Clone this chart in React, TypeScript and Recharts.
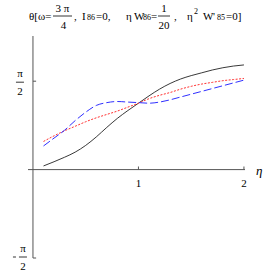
import React from 'react';
import { ComposedChart, Line, XAxis, YAxis, ReferenceLine } from 'recharts';

const eta = [0.1, 0.2, 0.3, 0.4, 0.5, 0.6, 0.7, 0.8, 0.9, 1.0, 1.1, 1.2, 1.3, 1.4, 1.5, 1.6, 1.7, 1.8, 1.9, 2.0];
const thetaBlack = [0.065, 0.14, 0.22, 0.31, 0.43, 0.58, 0.75, 0.91, 1.05, 1.18, 1.31, 1.43, 1.53, 1.61, 1.67, 1.72, 1.77, 1.81, 1.84, 1.86];
const thetaRed = [0.5, 0.6, 0.69, 0.77, 0.85, 0.92, 0.98, 1.04, 1.11, 1.18, 1.26, 1.32, 1.37, 1.43, 1.48, 1.52, 1.55, 1.58, 1.6, 1.62];
const thetaBlue = [0.42, 0.56, 0.7, 0.87, 1.02, 1.14, 1.19, 1.21, 1.2, 1.19, 1.18, 1.2, 1.24, 1.29, 1.34, 1.39, 1.44, 1.49, 1.54, 1.59];

const xTicks = [1, 2];
const xTickLabels = ['1', '2'];
const yTicks = [Math.PI / 2, -Math.PI / 2];
const yTickSigns = ['', '-'];

const data = eta.map((e, i) => ({ eta: e, a: thetaBlack[i], b: thetaRed[i], c: thetaBlue[i] }));

const FONT = "'Liberation Serif', 'DejaVu Serif', serif";
const AXIS = '#555';

const XTickLabel = (props: any) => {
  const vb = props.viewBox || {};
  return (
    <text x={vb.x} y={vb.y + vb.height + 17} textAnchor="middle" fontFamily={FONT} fontSize={11} fill="#000">
      {props.text}
    </text>
  );
};

const YTickLabel = (props: any) => {
  const vb = props.viewBox || {};
  const neg = props.sign === '-';
  const cx = vb.x - (neg ? 10 : 13);
  const by = vb.y + (neg ? -1 : 1);
  return (
    <g>
      {neg && <line x1={cx - 10} x2={cx - 7} y1={by} y2={by} stroke="#000" strokeWidth={0.8} />}
      <text x={cx} y={by - 5} textAnchor="middle" fontFamily={FONT} fontSize={11} fill="#000">π</text>
      <line x1={cx - 4} x2={cx + 4} y1={by} y2={by} stroke="#000" strokeWidth={0.8} />
      <text x={cx} y={by + 13} textAnchor="middle" fontFamily={FONT} fontSize={11} fill="#000">2</text>
    </g>
  );
};

const EtaLabel = (props: any) => {
  const vb = props.viewBox || {};
  return (
    <text x={vb.x + vb.width + 11} y={vb.y + 5} fontFamily={FONT} fontStyle="italic" fontSize={13} fill="#000">
      η
    </text>
  );
};

const Title = () => (
  <svg width={273} height={40} style={{ position: 'absolute', left: 0, top: 0 }}>
    <g fontFamily={FONT} fontSize={11} fill="#000">
      <text x={29} y={20}>θ[</text>
      <text x={38} y={20}>ω=</text>
      <text x={62.5} y={12} textAnchor="middle">3 π</text>
      <line x1={53} x2={72} y1={16} y2={16} stroke="#000" strokeWidth={0.8} />
      <text x={63.5} y={29} textAnchor="middle">4</text>
      <text x={74} y={20}>,</text>
      <text x={82} y={20}>I</text>
      <text x={87} y={20} fontSize={8}>86</text>
      <text x={96} y={20}>=0,</text>
      <text x={126} y={20}>η</text>
      <text x={134} y={20}>W</text>
      <text x={143} y={20} fontSize={8}>86</text>
      <text x={151} y={20}>=</text>
      <text x={164} y={12} textAnchor="middle">1</text>
      <line x1={158} x2={170} y1={16} y2={16} stroke="#000" strokeWidth={0.8} />
      <text x={164} y={29} textAnchor="middle">20</text>
      <text x={174} y={20}>,</text>
      <text x={187} y={20}>η</text>
      <text x={194} y={14} fontSize={8}>2</text>
      <text x={203} y={20}>W</text>
      <text x={213} y={20}>'</text>
      <text x={217} y={20} fontSize={8}>85</text>
      <text x={226} y={20}>=0]</text>
    </g>
  </svg>
);

export default function App() {
  return (
    <div style={{ position: 'absolute', left: 0, top: 0, width: 273, height: 273, background: '#fff' }}>
      <ComposedChart width={273} height={273} data={data} margin={{ top: 36, right: 28, bottom: 15, left: 28 }}>
        <XAxis dataKey="eta" type="number" domain={[-0.047, 2.01]} hide allowDataOverflow />
        <YAxis type="number" domain={[-Math.PI / 2, 2.374]} hide allowDataOverflow />
        <ReferenceLine y={0} stroke={AXIS} strokeWidth={1} label={(p: any) => <EtaLabel {...p} />} />
        <ReferenceLine segment={[{ x: 0, y: -Math.PI / 2 }, { x: 0, y: 2.374 }]} stroke={AXIS} strokeWidth={1} />
        {xTicks.map((t, i) => (
          <ReferenceLine
            key={'xt' + i}
            segment={[{ x: t, y: 0 }, { x: t, y: 0.055 }]}
            stroke={AXIS}
            label={(p: any) => <XTickLabel {...p} text={xTickLabels[i]} />}
          />
        ))}
        {yTicks.map((t, i) => (
          <ReferenceLine
            key={'yt' + i}
            segment={[{ x: 0, y: t }, { x: 0.03, y: t }]}
            stroke={AXIS}
            label={(p: any) => <YTickLabel {...p} sign={yTickSigns[i]} />}
          />
        ))}
        <Line dataKey="a" type="monotone" stroke="#222" strokeWidth={0.9} dot={false} isAnimationActive={false} />
        <Line dataKey="b" type="monotone" stroke="#ff3030" strokeWidth={1} strokeDasharray="2 1.5" dot={false} isAnimationActive={false} />
        <Line dataKey="c" type="monotone" stroke="#3030ff" strokeWidth={1} strokeDasharray="8 3" dot={false} isAnimationActive={false} />
      </ComposedChart>
      <Title />
    </div>
  );
}
